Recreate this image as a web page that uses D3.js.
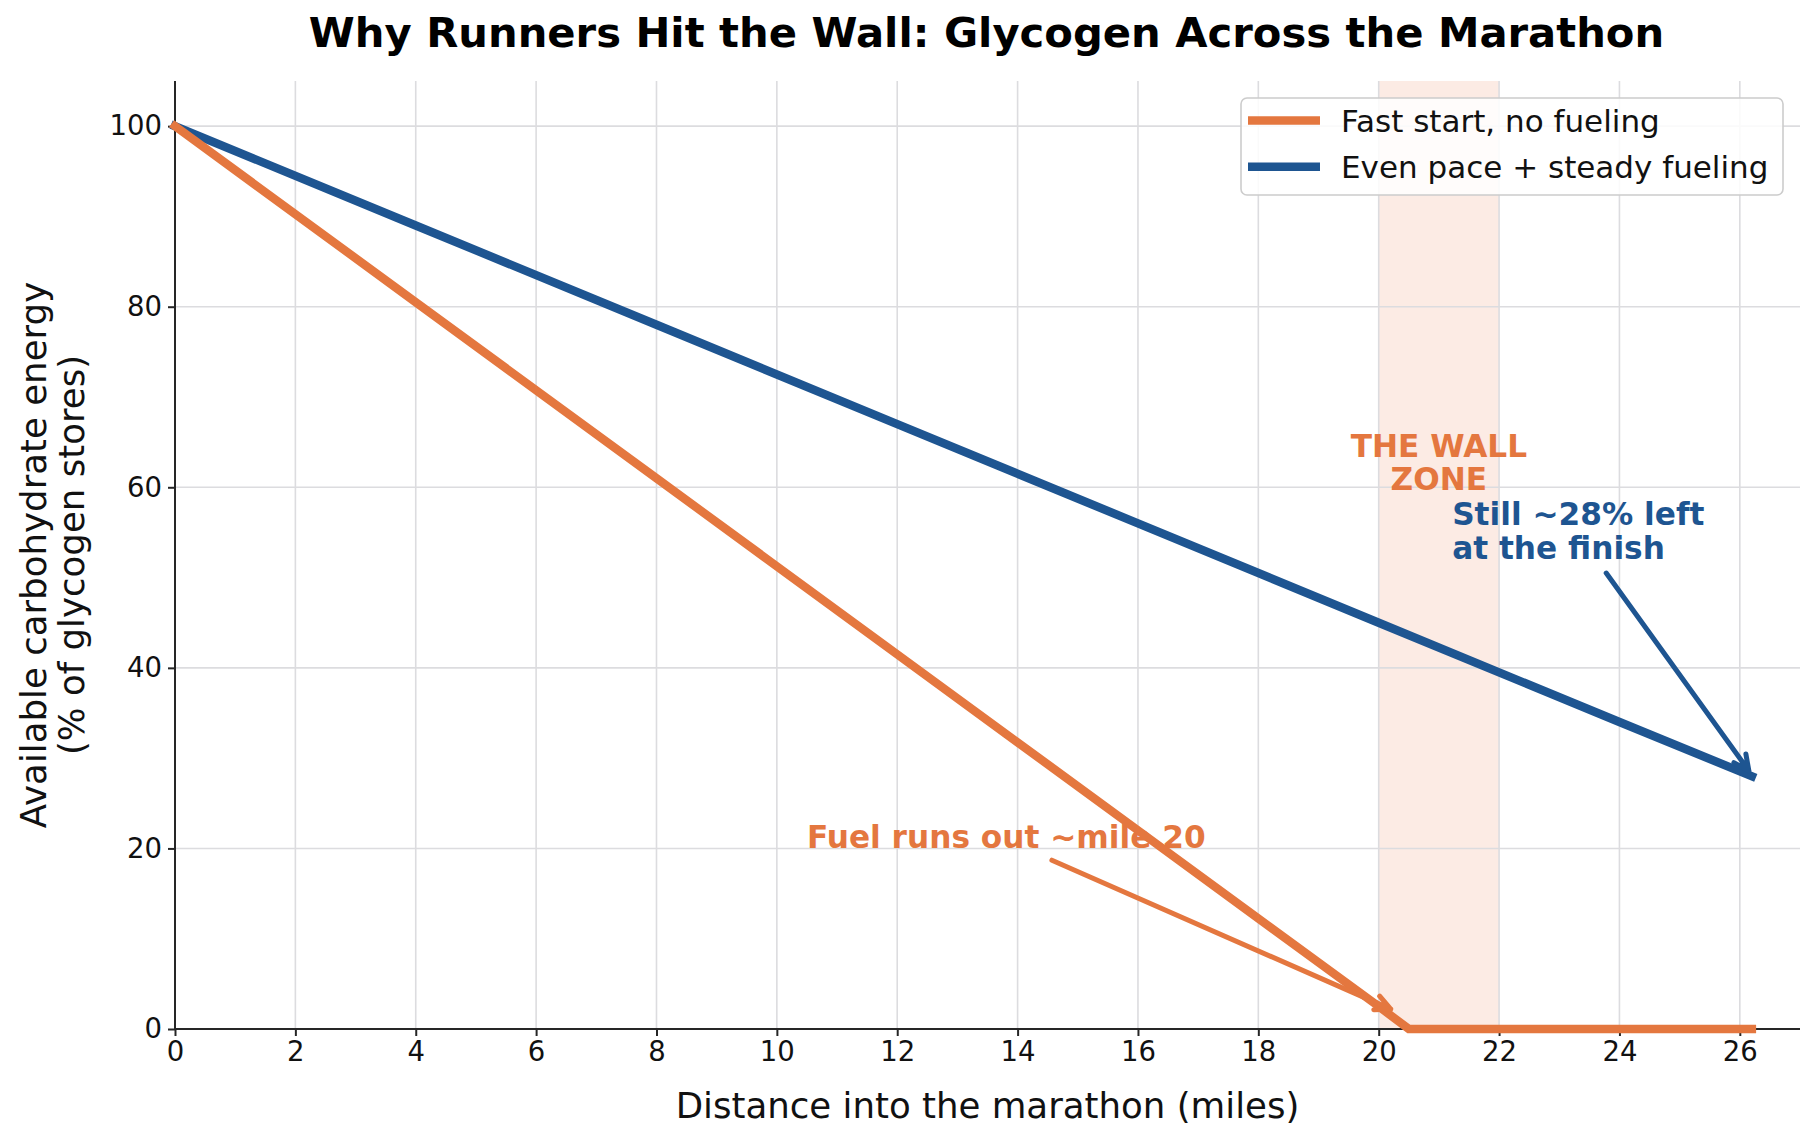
<!DOCTYPE html>
<html>
<head>
<meta charset="utf-8">
<script src="https://cdn.jsdelivr.net/npm/d3@7"></script>
<style>
  body { margin: 0; background: #fff; }
  svg text { font-family: "DejaVu Sans", sans-serif; }
</style>
</head>
<body>
<svg id="chart" width="1815" height="1140"></svg>
<script>
// miles into the race vs % glycogen left
const fastMiles = [0, 4, 8, 12, 16, 20, 20.5, 26.2];
const fastGlyco = [100, 80.5, 61, 41.5, 22, 2.5, 0, 0];
const evenMiles = [0, 4, 8, 12, 16, 20, 24, 26.2];
const evenGlyco = [100, 89, 78, 67, 56, 45, 34, 28];

const seriesNames = ["Fast start, no fueling", "Even pace + steady fueling"];
const seriesColors = ["#E4773F", "#1E5591"];

const xTicks = [0, 2, 4, 6, 8, 10, 12, 14, 16, 18, 20, 22, 24, 26];
const yTicks = [0, 20, 40, 60, 80, 100];
const wallZone = [20, 22];

// annotations: text anchor (data units, baseline of first line), arrow start and end (data units)
const wallLabel = { x: 21, y: 63.4, lines: ["THE WALL", "ZONE"] };
const finishNote = { x: 21.22, y: 55.8, lines: ["Still ~28% left", "at the finish"], from: [23.78, 50.5], to: [26.15, 28.6] };
const fuelNote = { x: 10.5, y: 20.0, lines: ["Fuel runs out ~mile 20"], from: [14.57, 18.7], to: [20.2, 2.2] };

const svg = d3.select("#chart");
const margin = { top: 81, right: 15, bottom: 111, left: 175 };
const W = 1815 - margin.left - margin.right;
const H = 1140 - margin.top - margin.bottom;

const x = d3.scaleLinear().domain([0, 27]).range([0, W]);
const y = d3.scaleLinear().domain([0, 105]).range([H, 0]);

const g = svg.append("g").attr("transform", `translate(${margin.left},${margin.top})`);

// wall band
g.append("rect")
  .attr("x", x(wallZone[0])).attr("width", x(wallZone[1]) - x(wallZone[0]))
  .attr("y", 0).attr("height", H)
  .attr("fill", "#fcebe4");

// grid
g.append("g").selectAll("line").data(xTicks).join("line")
  .attr("x1", d => x(d)).attr("x2", d => x(d)).attr("y1", 0).attr("y2", H)
  .attr("stroke", "#dcdcdf").attr("stroke-width", 1.6);
g.append("g").selectAll("line").data(yTicks).join("line")
  .attr("y1", d => y(d)).attr("y2", d => y(d)).attr("x1", 0).attr("x2", W)
  .attr("stroke", "#dcdcdf").attr("stroke-width", 1.6);

// annotation texts
function addNote(n, color, anchor) {
  const t = g.append("text")
    .attr("x", x(n.x)).attr("y", y(n.y))
    .attr("fill", color).attr("font-size", 31.2).attr("font-weight", "bold")
    .attr("text-anchor", anchor);
  n.lines.forEach((l, i) => {
    t.append("tspan").attr("x", x(n.x)).attr("dy", i ? 33.4 : 0).text(l);
  });
}
addNote(wallLabel, seriesColors[0], "middle");
addNote(finishNote, seriesColors[1], "start");
addNote(fuelNote, seriesColors[0], "start");

// lines
const line = d3.line().x(d => x(d[0])).y(d => y(d[1]));
const fastData = d3.zip(fastMiles, fastGlyco);
const evenData = d3.zip(evenMiles, evenGlyco);

// axes
const xAxis = g.append("g").attr("transform", `translate(0,${H})`)
  .call(d3.axisBottom(x).tickValues(xTicks).tickSize(7).tickPadding(5).tickSizeOuter(0));
const yAxis = g.append("g")
  .call(d3.axisLeft(y).tickValues(yTicks).tickSize(7).tickPadding(6).tickSizeOuter(0));
[xAxis, yAxis].forEach(a => {
  a.select(".domain").attr("stroke", "#262626").attr("stroke-width", 2);
  a.selectAll(".tick line").attr("stroke", "#262626").attr("stroke-width", 2);
  a.selectAll(".tick text").attr("font-size", 27.5).attr("fill", "#111")
    .style("font-family", "DejaVu Sans");
});
xAxis.select(".domain").attr("d", `M0,0H${W}`);
yAxis.select(".domain").attr("d", `M0,${H}V0`);

g.append("path").datum(evenData).attr("d", line)
  .attr("fill", "none").attr("stroke", seriesColors[1]).attr("stroke-width", 8.5)
  .attr("stroke-linecap", "square");
g.append("path").datum(fastData).attr("d", line)
  .attr("fill", "none").attr("stroke", seriesColors[0]).attr("stroke-width", 8.5)
  .attr("stroke-linecap", "square");

// arrows with open heads
function addArrow(n, color) {
  const x1 = x(n.from[0]), y1 = y(n.from[1]);
  const x2 = x(n.to[0]), y2 = y(n.to[1]);
  const ang = Math.atan2(y2 - y1, x2 - x1);
  const hl = 17, hw = 0.45;
  const p = d3.path();
  p.moveTo(x1, y1); p.lineTo(x2, y2);
  p.moveTo(x2 - hl * Math.cos(ang - hw), y2 - hl * Math.sin(ang - hw));
  p.lineTo(x2, y2);
  p.lineTo(x2 - hl * Math.cos(ang + hw), y2 - hl * Math.sin(ang + hw));
  g.append("path").attr("d", p.toString())
    .attr("fill", "none").attr("stroke", color).attr("stroke-width", 5)
    .attr("stroke-linecap", "round").attr("stroke-linejoin", "round");
}
addArrow(fuelNote, seriesColors[0]);
addArrow(finishNote, seriesColors[1]);

// axis labels
svg.append("text")
  .attr("x", margin.left + W / 2).attr("y", 1118)
  .attr("text-anchor", "middle").attr("font-size", 35.6).attr("fill", "#111")
  .text("Distance into the marathon (miles)");
const yl = svg.append("text")
  .attr("transform", `translate(46,${margin.top + H / 2}) rotate(-90)`)
  .attr("text-anchor", "middle").attr("font-size", 35.6).attr("fill", "#111");
yl.append("tspan").attr("x", 0).attr("dy", 0).text("Available carbohydrate energy");
yl.append("tspan").attr("x", 0).attr("dy", 38).text("(% of glycogen stores)");

// title
svg.append("text")
  .attr("x", margin.left + W / 2 - 1).attr("y", 47)
  .attr("text-anchor", "middle").attr("font-size", 41.7).attr("font-weight", "bold").attr("fill", "#000")
  .text("Why Runners Hit the Wall: Glycogen Across the Marathon");

// legend
const lg = g.append("g").attr("transform", `translate(${x(27) - 559},17)`);
lg.append("rect").attr("width", 542).attr("height", 97).attr("rx", 6)
  .attr("fill", "#fff").attr("fill-opacity", 0.85).attr("stroke", "#cccccc").attr("stroke-width", 1.6);
seriesNames.forEach((name, i) => {
  const row = lg.append("g").attr("transform", `translate(0,${22.5 + i * 46.3})`);
  row.append("line").attr("x1", 7).attr("x2", 79).attr("y1", 0).attr("y2", 0)
    .attr("stroke", seriesColors[i]).attr("stroke-width", 8.5);
  row.append("text").attr("x", 100).attr("y", 11).attr("font-size", 31).attr("fill", "#111").text(name);
});
</script>
</body>
</html>
